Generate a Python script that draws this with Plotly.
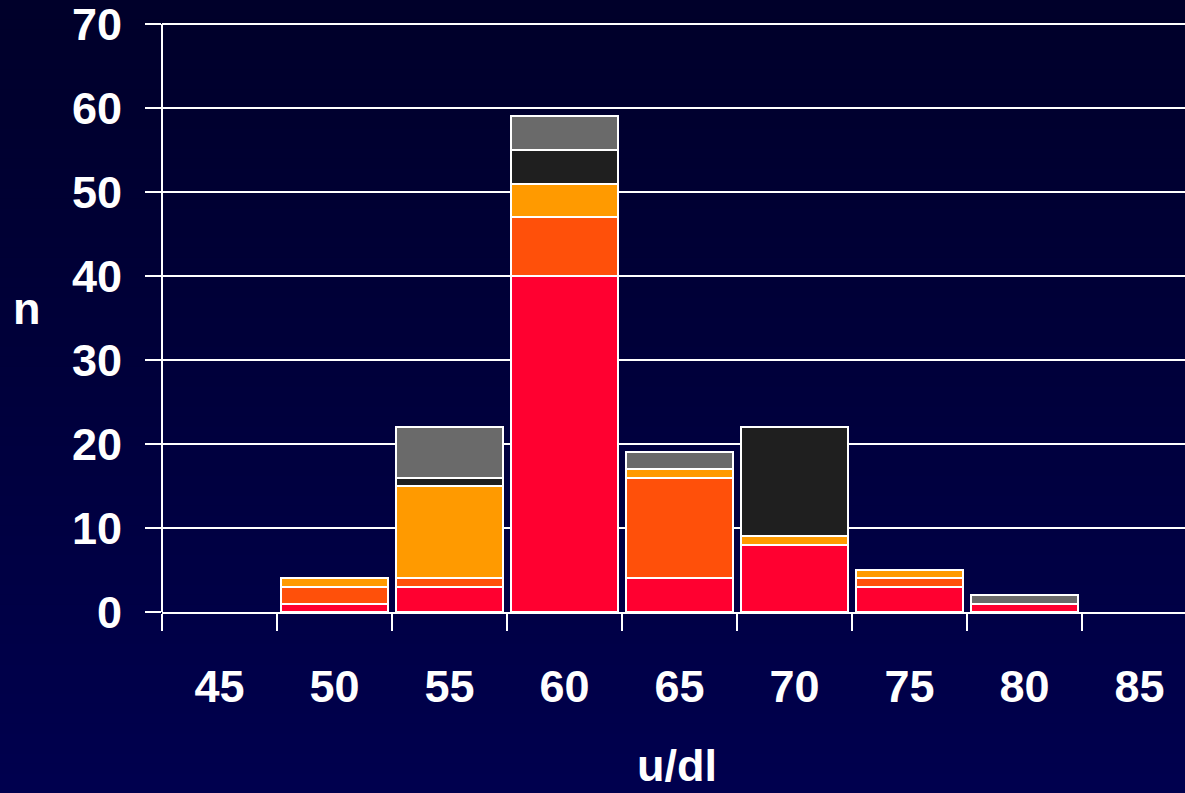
import plotly.graph_objects as go

# Stacked histogram of activity (u/dl) with five contributing groups
bins = [50, 55, 60, 65, 70, 75, 80]
red = [1, 3, 40, 4, 8, 3, 1]
orange_red = [2, 1, 7, 12, 0, 1, 0]
orange = [1, 11, 4, 1, 1, 1, 0]
black = [0, 1, 4, 0, 13, 0, 0]
gray = [0, 6, 4, 2, 0, 0, 1]

x_ticks = [45, 50, 55, 60, 65, 70, 75, 80, 85]
y_ticks = [0, 10, 20, 30, 40, 50, 60, 70]

series = [
    (red, "#FF0030"),
    (orange_red, "#FF500A"),
    (orange, "#FF9A00"),
    (black, "#1F1F1F"),
    (gray, "#6A6A6A"),
]

W, H = 1185, 793
L, T, B = 162, 19, 181
plot_w = W - L
plot_h = H - T - B
px_per_unit = 8.4
y_top = plot_h / px_per_unit

fig = go.Figure()
for vals, col in series:
    fig.add_trace(go.Bar(
        x=bins,
        y=[v if v else None for v in vals],
        width=4.65,
        marker=dict(color=col, line=dict(color="white", width=2)),
        showlegend=False,
        hoverinfo="skip",
    ))

# vertical navy gradient background
top_rgb = (0, 0, 42)
bot_rgb = (0, 0, 78)
n_bands = 80
for i in range(n_bands):
    f = i / (n_bands - 1)
    r = round(top_rgb[0] + (bot_rgb[0] - top_rgb[0]) * f)
    g = round(top_rgb[1] + (bot_rgb[1] - top_rgb[1]) * f)
    b = round(top_rgb[2] + (bot_rgb[2] - top_rgb[2]) * f)
    py0 = H * i / n_bands
    py1 = H * (i + 1) / n_bands + 1
    fig.add_shape(
        type="rect", xref="paper", yref="paper", layer="below",
        x0=-L / plot_w - 0.01, x1=1.01,
        y0=(T + plot_h - py1) / plot_h, y1=(T + plot_h - py0) / plot_h,
        fillcolor=f"rgb({r},{g},{b})", line=dict(width=0),
    )

# value axis line, running only over the labelled span
fig.add_shape(
    type="line", xref="paper", yref="y",
    x0=0, x1=0, y0=0, y1=max(y_ticks),
    line=dict(color="white", width=2),
)

font = dict(family="Liberation Sans, Arial, sans-serif", color="white", size=45, weight="bold")

fig.update_layout(
    width=W, height=H,
    margin=dict(l=L, r=0, t=T, b=B, pad=0),
    barmode="stack",
    paper_bgcolor="rgba(0,0,0,0)",
    plot_bgcolor="rgba(0,0,0,0)",
    font=font,
    xaxis=dict(
        range=[42.5, 42.5 + plot_w / 23.0],
        tickvals=x_ticks,
        ticktext=[str(v) for v in x_ticks],
        ticks="", ticklen=0,
        ticklabelstandoff=34,
        ticklabeloverflow="allow",
        showgrid=False, zeroline=False,
        showline=True, linecolor="white", linewidth=2,
        minor=dict(
            tickvals=[42.5 + 5 * k for k in range(9)],
            ticks="outside", ticklen=17, tickwidth=2, tickcolor="white",
            showgrid=False,
        ),
        tickfont=font,
    ),
    yaxis=dict(
        range=[0, y_top],
        tickvals=y_ticks,
        ticks="outside", ticklen=16, tickwidth=2, tickcolor="white",
        ticklabelstandoff=14,
        ticklabeloverflow="allow",
        showgrid=True, gridcolor="white", gridwidth=2,
        zeroline=False,
        showline=False,
        tickfont=font,
    ),
    annotations=[
        dict(text="n", xref="paper", yref="paper",
             x=(27 - L) / plot_w, y=(T + plot_h - 308) / plot_h,
             xanchor="center", yanchor="middle", showarrow=False, font=font),
        dict(text="u/dl", xref="paper", yref="paper",
             x=(677 - L) / plot_w, y=(T + plot_h - 765) / plot_h,
             xanchor="center", yanchor="middle", showarrow=False, font=font),
    ],
)

fig.write_html("out.html")
